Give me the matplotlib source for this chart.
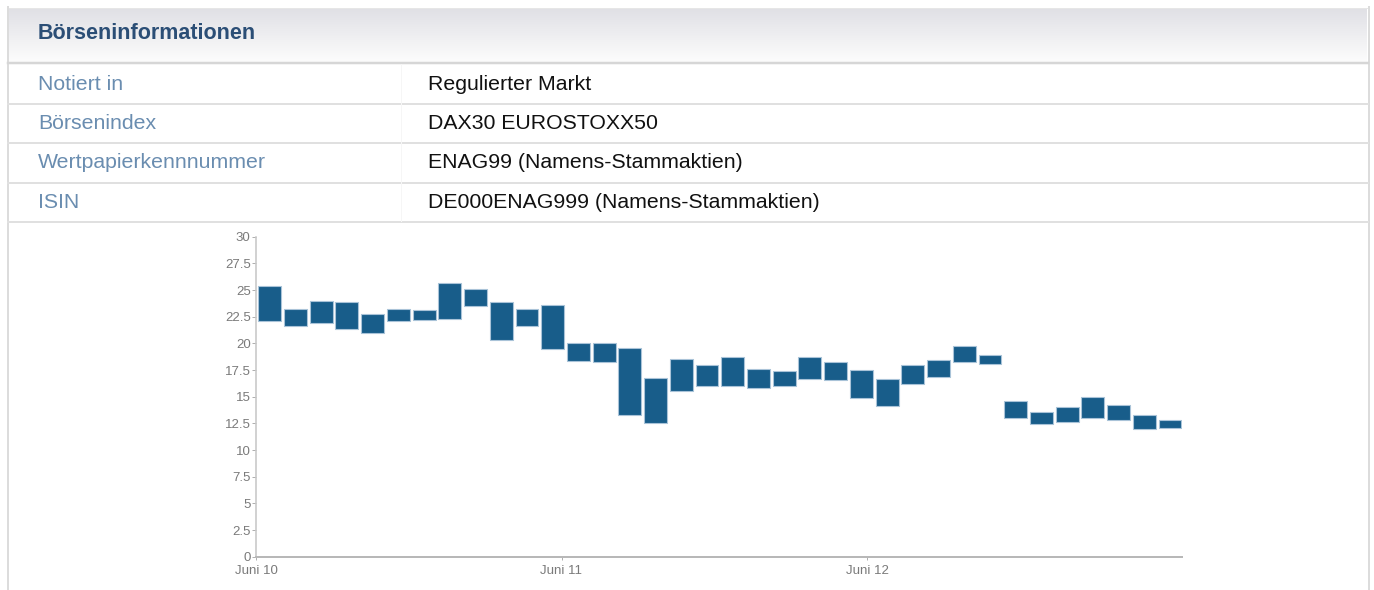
import matplotlib
matplotlib.use("Agg")
import matplotlib.pyplot as plt
import numpy as np

plt.rcParams['font.family'] = ['Liberation Sans', 'DejaVu Sans']

# ---------------- data ----------------
title = "Börseninformationen"
row_labels = ["Notiert in", "Börsenindex", "Wertpapierkennnummer", "ISIN"]
row_values = ["Regulierter Markt", "DAX30 EUROSTOXX50",
              "ENAG99 (Namens-Stammaktien)", "DE000ENAG999 (Namens-Stammaktien)"]

day_labels = ["Juni 10", "Juni 11", "Juni 12"]

box_low = [22.07, 21.66, 21.88, 21.35, 20.94, 22.13, 22.22, 22.31, 23.47, 20.28, 21.63, 19.50,
           18.35, 18.25, 13.25, 12.56, 15.56, 16.00, 16.00, 15.78, 16.03, 16.63, 16.56, 14.85,
           14.10, 16.16, 16.85, 18.25, 18.03, 13.03, 12.47, 12.60, 13.00, 12.82, 12.00, 12.03]
box_high = [25.41, 23.25, 23.97, 23.85, 22.72, 23.25, 23.10, 25.63, 25.10, 23.90, 23.19, 23.60,
            20.00, 20.07, 19.54, 16.78, 18.53, 17.94, 18.72, 17.63, 17.44, 18.69, 18.28, 17.47,
            16.66, 18.00, 18.44, 19.78, 18.91, 14.57, 13.53, 14.00, 14.97, 14.22, 13.31, 12.78]

y_ticks = [0, 2.5, 5, 7.5, 10, 12.5, 15, 17.5, 20, 22.5, 25, 27.5, 30]

# ---------------- layout ----------------
W, H = 1374, 590
fig = plt.figure(figsize=(W / 100, H / 100), dpi=100)
fig.patch.set_facecolor("white")

PX = 0.72  # points per pixel at dpi 100

# background / table overlay in pixel coordinates
bg = fig.add_axes([0, 0, 1, 1], zorder=0)
bg.axis("off")

top_c = np.array([0.878, 0.878, 0.898])
bot_c = np.array([0.99, 0.99, 0.99])
t = np.linspace(0, 1, 60)[:, None]
grad = (top_c[None, :] * (1 - t) + bot_c[None, :] * t)[:, None, :].repeat(2, axis=1)
bg.imshow(grad, extent=(9, 1367, 62, 8), aspect="auto", interpolation="bilinear", zorder=0)

bg.set_xlim(0, W)
bg.set_ylim(H, 0)

# borders
bg.plot([8, 1368], [7.5, 7.5], color="#e6e6e6", lw=1 * PX, zorder=1)
bg.plot([8, 8], [7, H], color="#dcdcdc", lw=2 * PX, zorder=1)
bg.plot([1368.5, 1368.5], [7, H], color="#dcdcdc", lw=2 * PX, zorder=1)
bg.plot([8, 1368], [63.3, 63.3], color="#d6d6d6", lw=2.5 * PX, zorder=1)
for yy in [104, 143.3, 182.7, 221.7]:
    bg.plot([8, 1368], [yy, yy], color="#e0e0e0", lw=2 * PX, zorder=1)
bg.plot([401, 401], [64, 221], color="#f6f6f6", lw=1 * PX, zorder=1)

bg.text(38, 39.3, title, fontsize=15.5, fontweight="bold", color="#2b4e76", va="baseline", ha="left")
baselines = [90, 129, 168, 207.5]
for lab, val, yb in zip(row_labels, row_values, baselines):
    bg.text(38, yb, lab, fontsize=15.3, color="#6a8db0", va="baseline", ha="left")
    bg.text(428, yb, val, fontsize=15.35, color="#111111", va="baseline", ha="left")

# ---------------- chart ----------------
ax_left, ax_right = 256, 1182
ax_bottom, ax_top = 556.7, 236.7
ax = fig.add_axes([ax_left / W, (H - ax_bottom) / H,
                   (ax_right - ax_left) / W, (ax_bottom - ax_top) / H], zorder=2)
ax.set_facecolor("none")

n = len(box_low)
low = np.array(box_low)
high = np.array(box_high)
x = np.arange(n)
ax.bar(x + 0.09, high - low, bottom=low, width=0.89, align="edge",
       color="#185d8a", edgecolor="#a9c3d8", linewidth=0.8, zorder=3)

ax.set_xlim(0, n)
ax.set_ylim(0, 30)

day_px = 305.5
step_px = (ax_right - ax_left) / n
day_span = day_px / step_px
ax.set_xticks([i * day_span for i in range(len(day_labels))])
ax.set_xticklabels(day_labels)
ax.set_yticks(y_ticks)
ax.set_yticklabels([("%g" % v) for v in y_ticks])

for s in ["top", "right"]:
    ax.spines[s].set_visible(False)
ax.spines["left"].set_color("#c8c8c8")
ax.spines["left"].set_linewidth(1.6 * PX)
ax.spines["bottom"].set_color("#b8b8b8")
ax.spines["bottom"].set_linewidth(2 * PX)

ax.tick_params(axis="y", direction="out", length=4 * PX, width=1 * PX, color="#b0b0b0",
               labelsize=9.5, labelcolor="#7a7a7a", pad=1)
ax.tick_params(axis="x", direction="out", length=3 * PX, width=1 * PX, color="#b0b0b0",
               labelsize=9.5, labelcolor="#7a7a7a", pad=3.5)

fig.savefig("out.png", dpi=100, facecolor="white")
